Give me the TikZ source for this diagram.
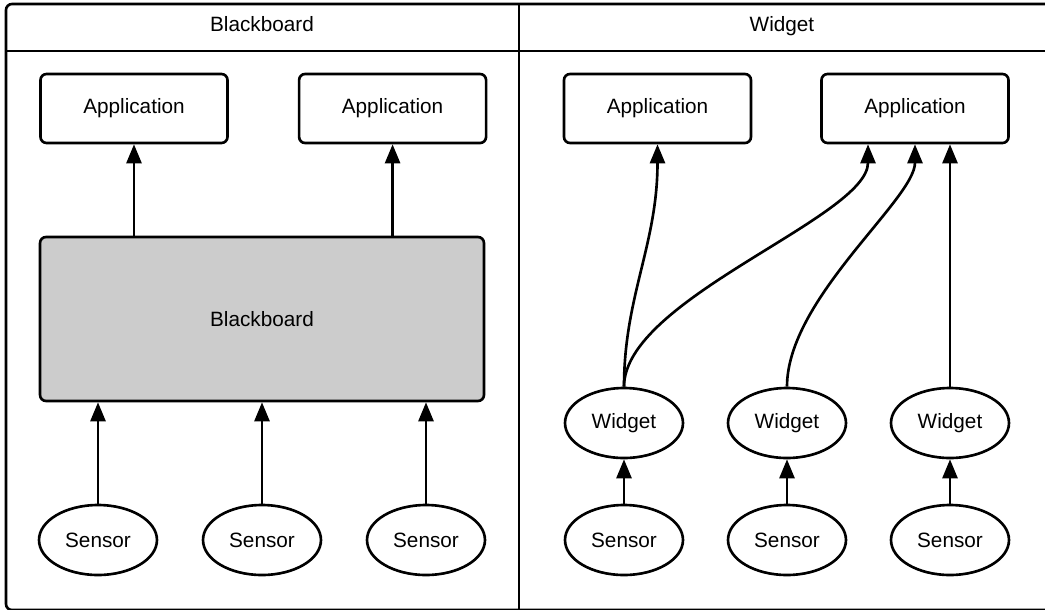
\documentclass[tikz,border=0pt]{standalone}
\usepackage{fontspec}
\setmainfont{Liberation Sans}
\usetikzlibrary{shapes.geometric, arrows.meta, positioning}

\begin{document}
\begin{tikzpicture}[x=0.02cm, y=-0.02cm, line width=1.5pt, font=\fontsize{11.8}{14}\selectfont]
\tikzstyle{app} = [rectangle, draw, rounded corners=0.12cm, minimum width=3.74cm, minimum height=1.38cm]
\tikzstyle{store} = [app, fill=black!20, minimum width=8.88cm, minimum height=3.28cm]
\tikzstyle{oval} = [ellipse, draw, minimum width=2.36cm, minimum height=1.4cm, inner sep=0pt]
\tikzstyle{link} = [-{Triangle[length=0.38cm, width=0.3cm]}]

\useasboundingbox (0,0) rectangle (1045,609);
\clip (0,0) rectangle (1045,609);

% frame with the two lanes
\draw[rounded corners=0.12cm] (6,4) rectangle (1070,610);
\draw (6,51) -- (1045,51);
\draw (519,4) -- (519,610);
\node (lane1) [anchor=base] at (262,31.5) {Blackboard};
\node (lane2) [anchor=base] at (782,31.5) {Widget};

% blackboard lane
\node (app1) [app] at (134,108.5) {Application};
\node (app2) [app, right=1.38cm of app1] {Application};
\node (board) [store] at (262,319) {Blackboard};
\foreach \x/\n in {98/1,262/2,426/3}
  \node (sensor\n) [oval] at (\x,540) {Sensor};

\draw[link] (board.north -| app1) -- (app1.south);
\draw[link] (board.north -| app2) -- (app2.south);
\foreach \n in {1,2,3}
  \draw[link] (sensor\n.north) -- (sensor\n |- board.south);

% widget lane
\node (app3) [app] at (657.5,108.5) {Application};
\node (app4) [app] at (915,108.5) {Application};
\foreach \x/\n in {624/1,787/2,950/3} {
  \node (widget\n) [oval] at (\x,423) {Widget};
  \node (wsensor\n) [oval] at (\x,540) {Sensor};
  \draw[link] (wsensor\n.north) -- (widget\n.south);
}

\draw[link] (widget1.north) .. controls +(0,-90) and +(0,100) .. (app3.south);
\draw[link] (widget1.north) .. controls +(0,-88) and +(0,73) .. ([xshift=-0.94cm]app4.south);
\draw[link] (widget2.north) .. controls +(0,-88) and +(0,55) .. (app4.south);
\draw[link] (widget3.north) -- (widget3.north |- app4.south);

\end{tikzpicture}
\end{document}
